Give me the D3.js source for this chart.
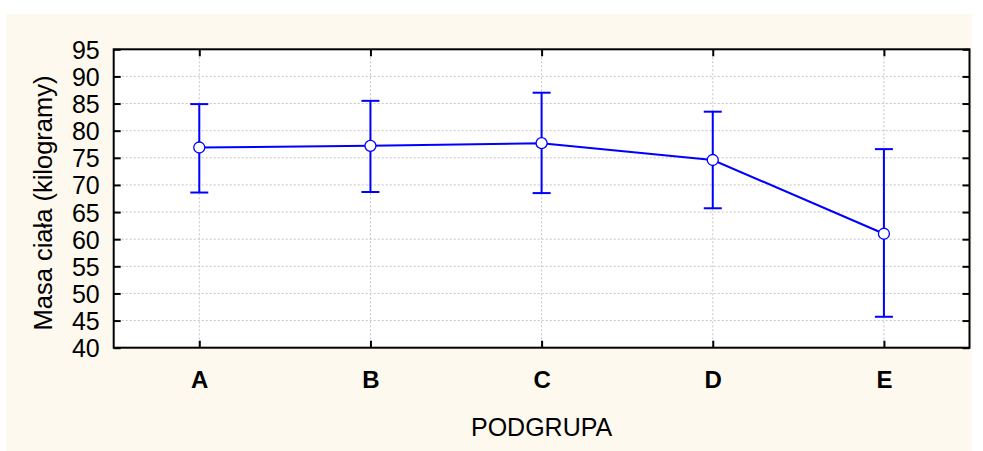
<!DOCTYPE html>
<html>
<head>
<meta charset="utf-8">
<script src="https://cdn.jsdelivr.net/npm/d3@7"></script>
<style>
  html, body { margin: 0; padding: 0; background: #ffffff; }
  svg { display: block; }
  text { font-family: Arial, "Liberation Sans", sans-serif; fill: #000; }
</style>
</head>
<body>
<svg id="chart" width="983" height="451"></svg>
<script>
const categories = ["A", "B", "C", "D", "E"];
const means = [76.9, 77.2, 77.7, 74.6, 61.0];
const upper = [84.9, 85.5, 87.0, 83.5, 76.6];
const lower = [68.6, 68.7, 68.5, 65.7, 45.7];
const yTicks = [40, 45, 50, 55, 60, 65, 70, 75, 80, 85, 90, 95];
const yTitle = "Masa ciała (kilogramy)";
const xTitle = "PODGRUPA";

const data = categories.map((c, i) => ({ cat: c, mean: means[i], hi: upper[i], lo: lower[i] }));

const svg = d3.select("#chart");
const W = 983, H = 451;
const plot = { left: 113.7, right: 969.5, top: 49.3, bottom: 347.7 };

svg.append("rect").attr("x", 6).attr("y", 14).attr("width", 966).attr("height", H - 14)
  .attr("fill", "#fdf9ef");

svg.append("rect").attr("x", plot.left).attr("y", plot.top)
  .attr("width", plot.right - plot.left).attr("height", plot.bottom - plot.top)
  .attr("fill", "#ffffff");

const x = d3.scalePoint().domain(categories).range([plot.left, plot.right]).padding(0.5);
const y = d3.scaleLinear().domain([40, 95]).range([plot.bottom, plot.top]);

// grid
const grid = svg.append("g");
grid.selectAll("line.h").data(yTicks.filter(t => t > 40 && t < 95)).join("line")
  .attr("x1", plot.left).attr("x2", plot.right)
  .attr("y1", d => y(d)).attr("y2", d => y(d))
  .attr("stroke", "#c4c4c4").attr("stroke-width", 1).attr("stroke-dasharray", "2,2");
grid.selectAll("line.v").data(categories).join("line")
  .attr("y1", plot.top).attr("y2", plot.bottom)
  .attr("x1", d => x(d)).attr("x2", d => x(d))
  .attr("stroke", "#c4c4c4").attr("stroke-width", 1).attr("stroke-dasharray", "2,2");

// axes (ticks inward)
const yAxisL = d3.axisLeft(y).tickValues(yTicks).tickSize(-7).tickPadding(14);
const gL = svg.append("g").attr("transform", `translate(${plot.left},0)`).call(yAxisL);
gL.select(".domain").remove();
gL.selectAll(".tick line").attr("stroke", "#000").attr("stroke-width", 2);
gL.selectAll(".tick text").attr("font-size", 25).attr("font-family", "Arial, 'Liberation Sans', sans-serif")
  .attr("fill", "#000").attr("dy", "0.36em");

const yAxisR = d3.axisRight(y).tickValues(yTicks).tickSize(-7).tickFormat("");
const gR = svg.append("g").attr("transform", `translate(${plot.right},0)`).call(yAxisR);
gR.select(".domain").remove();
gR.selectAll(".tick line").attr("stroke", "#000").attr("stroke-width", 2);

const xAxisB = d3.axisBottom(x).tickSize(-7).tickPadding(23);
const gB = svg.append("g").attr("transform", `translate(0,${plot.bottom})`).call(xAxisB);
gB.select(".domain").remove();
gB.selectAll(".tick line").attr("stroke", "#000").attr("stroke-width", 2);
gB.selectAll(".tick text").attr("font-size", 24).attr("font-weight", "bold")
  .attr("font-family", "Arial, 'Liberation Sans', sans-serif").attr("fill", "#000").attr("dy", "0.71em");

const xAxisT = d3.axisTop(x).tickSize(-7).tickFormat("");
const gT = svg.append("g").attr("transform", `translate(0,${plot.top})`).call(xAxisT);
gT.select(".domain").remove();
gT.selectAll(".tick line").attr("stroke", "#000").attr("stroke-width", 2);

// frame
svg.append("rect").attr("x", plot.left).attr("y", plot.top)
  .attr("width", plot.right - plot.left).attr("height", plot.bottom - plot.top)
  .attr("fill", "none").attr("stroke", "#000").attr("stroke-width", 2);

// error bars
const eb = svg.append("g").attr("stroke", "#0000ff").attr("stroke-width", 2).attr("fill", "none");
eb.selectAll("line.v").data(data).join("line")
  .attr("x1", d => x(d.cat)).attr("x2", d => x(d.cat))
  .attr("y1", d => y(d.hi)).attr("y2", d => y(d.lo));
eb.selectAll("line.hi").data(data).join("line")
  .attr("x1", d => x(d.cat) - 9).attr("x2", d => x(d.cat) + 9)
  .attr("y1", d => y(d.hi)).attr("y2", d => y(d.hi));
eb.selectAll("line.lo").data(data).join("line")
  .attr("x1", d => x(d.cat) - 9).attr("x2", d => x(d.cat) + 9)
  .attr("y1", d => y(d.lo)).attr("y2", d => y(d.lo));

// mean line
const line = d3.line().x(d => x(d.cat)).y(d => y(d.mean));
svg.append("path").datum(data).attr("d", line)
  .attr("fill", "none").attr("stroke", "#0000ff").attr("stroke-width", 2);

svg.append("g").selectAll("circle").data(data).join("circle")
  .attr("cx", d => x(d.cat)).attr("cy", d => y(d.mean)).attr("r", 5.5)
  .attr("fill", "#ffffff").attr("stroke", "#0000ff").attr("stroke-width", 1.3);

// titles
svg.append("text").attr("x", (plot.left + plot.right) / 2).attr("y", 436)
  .attr("text-anchor", "middle").attr("font-size", 25).text(xTitle);

svg.append("text").attr("transform", `translate(52,${(74 + 332) / 2}) rotate(-90)`)
  .attr("text-anchor", "middle").attr("font-size", 25.5).text(yTitle);
</script>
</body>
</html>
